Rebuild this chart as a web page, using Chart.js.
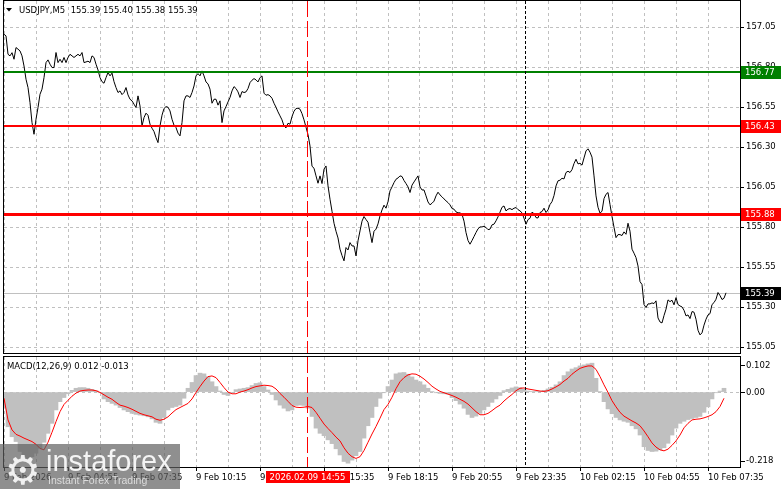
<!DOCTYPE html>
<html><head><meta charset="utf-8">
<script src="https://cdn.jsdelivr.net/npm/chart.js"></script>
<style>
html,body{margin:0;padding:0;background:#fff;}
#wrap{position:relative;width:781px;height:489px;overflow:hidden;background:#fff;}
#cMain{position:absolute;left:0;top:0;width:781px;height:356px;}
#cMacd{position:absolute;left:0;top:354px;width:781px;height:135px;}
#logo{position:absolute;left:0;top:444px;width:180px;height:45px;background:rgba(96,96,96,0.70);overflow:hidden;}
#logo span{position:absolute;white-space:nowrap;line-height:1;}
#logo .gear{left:5px;top:3px;font:40px 'DejaVu Sans';color:#f0f0f0;}
#logo .name{left:46px;top:1px;font:29px 'Liberation Sans';color:#f4f4f4;}
#logo .tag{left:48px;top:30px;font:10.5px 'Liberation Sans';color:#dcdcdc;}
</style></head>
<body><div id="wrap">
<canvas id="cMain" width="781" height="356"></canvas>
<canvas id="cMacd" width="781" height="135"></canvas>
<div id="logo"><span class="gear">&#9881;</span><span class="name">instaforex</span><span class="tag">Instant Forex Trading</span></div>
</div>
<script>
// ---------------- DATA ----------------
const symbol = 'USDJPY,M5';
const ohlc = [155.39, 155.40, 155.38, 155.39];
// M5 closes, one per bar (bar 0 = 9 Feb 02:15)
const prices = [
157.006,156.996,156.881,156.871,156.891,156.850,156.923,156.913,156.902,156.871,
156.808,156.725,156.673,156.579,156.454,156.381,156.475,156.548,156.631,156.663,
156.735,156.829,156.846,156.819,156.798,156.798,156.892,156.829,156.850,156.829,
156.861,156.829,156.861,156.881,156.871,156.861,156.871,156.881,156.871,156.892,
156.829,156.833,156.838,156.829,156.871,156.861,156.819,156.783,156.735,156.710,
156.700,156.735,156.767,156.746,156.763,156.710,156.673,156.642,156.652,156.629,
156.642,156.673,156.627,156.600,156.590,156.569,156.548,156.621,156.558,156.433,
156.485,156.513,156.500,156.444,156.419,156.398,156.360,156.329,156.433,156.500,
156.542,156.554,156.550,156.527,156.475,156.438,156.423,156.388,156.371,156.454,
156.590,156.621,156.621,156.611,156.642,156.683,156.746,156.760,156.746,156.777,
156.746,156.708,156.696,156.663,156.575,156.600,156.600,156.563,156.590,156.454,
156.527,156.554,156.583,156.611,156.652,156.679,156.667,156.646,156.611,156.648,
156.642,156.646,156.667,156.704,156.719,156.729,156.721,156.708,156.735,156.746,
156.638,156.625,156.629,156.621,156.606,156.575,156.550,156.521,156.496,156.471,
156.433,156.421,156.450,156.444,156.492,156.525,156.542,156.544,156.538,156.510,
156.471,156.425,156.379,156.308,156.181,156.169,156.121,156.075,156.121,156.073,
156.163,156.183,156.059,155.975,155.900,155.825,155.775,155.733,155.663,155.623,
155.590,155.673,155.658,155.704,155.683,155.683,155.621,155.715,155.777,155.838,
155.867,155.848,155.831,155.767,155.704,155.775,155.788,155.821,155.871,155.908,
155.938,155.919,155.960,156.027,156.052,156.079,156.100,156.108,156.121,156.117,
156.092,156.073,156.052,156.017,156.063,156.083,156.102,156.121,156.052,156.033,
156.033,155.996,155.958,155.940,155.950,155.963,155.996,156.019,156.002,155.990,
155.977,155.965,155.954,155.940,155.917,155.913,155.896,155.890,155.890,155.881,
155.838,155.767,155.717,155.694,155.717,155.742,155.767,155.790,155.802,155.802,
155.806,155.798,155.785,155.788,155.815,155.819,155.840,155.865,155.894,155.925,
155.933,155.902,155.913,155.917,155.910,155.919,155.923,155.910,155.902,155.890,
155.856,155.819,155.848,155.856,155.894,155.885,155.860,155.858,155.892,155.898,
155.919,155.892,155.908,155.942,155.960,155.998,156.058,156.090,156.094,156.106,
156.102,156.142,156.150,156.142,156.160,156.198,156.225,156.196,156.200,156.188,
156.233,156.277,156.290,156.269,156.238,156.121,155.996,155.925,155.888,155.900,
155.979,156.006,156.017,155.942,155.867,155.800,155.735,155.754,155.754,155.748,
155.771,155.756,155.825,155.775,155.663,155.638,155.610,155.558,155.460,155.442,
155.317,155.298,155.321,155.321,155.327,155.323,155.340,155.233,155.208,155.202,
155.248,155.288,155.346,155.335,155.344,155.315,155.360,155.317,155.308,155.302,
155.281,155.246,155.252,155.229,155.273,155.269,155.225,155.156,155.127,155.140,
155.188,155.225,155.252,155.260,155.317,155.329,155.350,155.392,155.373,155.348,
155.356,155.390
];
// MACD(12,26,9) read every 2nd bar
const macdMain = [
-0.047,-0.101,-0.130,-0.144,-0.173,-0.188,-0.193,-0.188,-0.178,-0.164,
-0.146,-0.120,-0.091,-0.052,-0.028,-0.016,-0.005,0.005,0.011,0.013,
0.013,0.011,0.008,0.004,-0.002,-0.020,-0.028,-0.033,-0.038,-0.045,
-0.052,-0.057,-0.062,-0.065,-0.067,-0.069,-0.072,-0.078,-0.088,-0.091,
-0.074,-0.052,-0.045,-0.042,-0.038,-0.018,0.011,0.028,0.048,0.055,
0.053,0.045,0.030,0.016,0.003,-0.007,-0.010,-0.001,0.007,0.009,
0.011,0.013,0.019,0.025,0.027,0.016,0.006,-0.007,-0.023,-0.038,
-0.047,-0.055,-0.052,-0.039,-0.038,-0.039,-0.047,-0.071,-0.105,-0.120,
-0.127,-0.139,-0.150,-0.165,-0.183,-0.202,-0.207,-0.198,-0.185,-0.173,
-0.134,-0.098,-0.074,-0.042,-0.018,-0.002,0.016,0.035,0.053,0.056,
0.057,0.052,0.044,0.035,0.030,0.021,0.011,0.001,-0.002,-0.004,
-0.005,-0.006,-0.016,-0.025,-0.035,-0.047,-0.065,-0.074,-0.070,-0.062,
-0.052,-0.042,-0.030,-0.020,-0.010,0.004,0.008,0.012,0.015,0.013,
0.008,0.003,0.001,0.001,0.002,0.005,0.009,0.014,0.021,0.030,
0.048,0.059,0.067,0.071,0.076,0.079,0.082,0.084,0.040,0.001,
-0.028,-0.049,-0.063,-0.074,-0.081,-0.085,-0.088,-0.098,-0.107,-0.125,
-0.159,-0.170,-0.173,-0.172,-0.168,-0.162,-0.149,-0.125,-0.105,-0.091,
-0.085,-0.080,-0.077,-0.074,-0.071,-0.059,-0.043,-0.020,-0.002,0.003,0.011
];
const macdSignal = [
-0.018,-0.081,-0.110,-0.123,-0.128,-0.134,-0.139,-0.144,-0.152,-0.164,
-0.168,-0.146,-0.117,-0.086,-0.057,-0.036,-0.024,-0.012,-0.003,0.003,
0.005,0.006,0.006,0.004,-0.001,-0.008,-0.015,-0.021,-0.030,-0.038,
-0.041,-0.045,-0.050,-0.056,-0.062,-0.066,-0.069,-0.072,-0.079,-0.082,
-0.079,-0.072,-0.061,-0.051,-0.045,-0.039,-0.033,-0.020,-0.001,0.016,
0.032,0.045,0.047,0.042,0.028,0.013,0.000,-0.005,-0.005,0.000,
0.003,0.007,0.012,0.016,0.018,0.020,0.019,0.017,0.009,-0.004,
-0.015,-0.027,-0.039,-0.044,-0.045,-0.044,-0.042,-0.045,-0.059,-0.076,
-0.093,-0.106,-0.118,-0.131,-0.142,-0.162,-0.178,-0.188,-0.193,-0.188,
-0.170,-0.146,-0.122,-0.100,-0.076,-0.051,-0.036,-0.015,0.010,0.030,
0.042,0.050,0.053,0.052,0.046,0.038,0.028,0.017,0.009,0.002,
-0.002,-0.006,-0.010,-0.015,-0.021,-0.027,-0.035,-0.046,-0.057,-0.066,
-0.066,-0.062,-0.054,-0.045,-0.038,-0.026,-0.016,-0.007,0.004,0.011,
0.012,0.009,0.007,0.005,0.003,0.002,0.004,0.009,0.015,0.022,
0.032,0.040,0.052,0.061,0.069,0.073,0.076,0.076,0.066,0.045,
0.021,-0.001,-0.025,-0.043,-0.059,-0.070,-0.077,-0.084,-0.090,-0.098,
-0.113,-0.130,-0.148,-0.160,-0.168,-0.171,-0.166,-0.155,-0.142,-0.125,
-0.104,-0.091,-0.081,-0.079,-0.078,-0.075,-0.071,-0.066,-0.057,-0.042,-0.018
];
const macdHeader = [0.012, -0.013];
const timeLabels = ['9 Feb 2026','9 Feb 04:55','9 Feb 07:35','9 Feb 10:15','9 Feb 12:55','9 Feb 15:35',
  '9 Feb 18:15','9 Feb 20:55','9 Feb 23:35','10 Feb 02:15','10 Feb 04:55','10 Feb 07:35'];
const priceTicks = [157.05,156.80,156.55,156.30,156.05,155.80,155.55,155.30,155.05];
const levels = [156.77, 156.43, 155.88];
const macdScaleLabels = [0.102, 0.00, -0.218];
const sessionBar = 152, sessionLabel = '2026.02.09 14:55';
const dayBreakBar = 261;

// ---------------- STYLE / LAYOUT ----------------
const X_MAX = 368, GRID_STEP = 16, LABEL_STEP = 32, MACD_STEP = 2;
const FONT = {family:'DejaVu Sans', size:8.5};
const FONT_CSS = '8.5px "DejaVu Sans"';
const GRID = '#c0c0c0', DASH = [3,3];
const LEVEL_STYLE = [{color:'#008000',w:2},{color:'#ff0000',w:2},{color:'#ff0000',w:3}];
const MARKERS = [{bar:sessionBar,color:'#ff0000',dash:[16,4]},{bar:dayBreakBar,color:'#000000',dash:[3,2]}];
const gridBars = []; for (let b = 0; b <= X_MAX; b += GRID_STEP) gridBars.push(b);

function fixScale(w,h){ return s => { if(w!=null) s.width=w; if(h!=null) s.height=h;
  s.paddingTop=0; s.paddingBottom=0; s.paddingLeft=0; s.paddingRight=0; }; }
function drawMarkers(ctx, x, top, bottom){
  MARKERS.forEach(m => {
    const px = Math.round(x.getPixelForValue(m.bar)) - 0.5;
    ctx.save(); ctx.strokeStyle = m.color; ctx.lineWidth = 1; ctx.setLineDash(m.dash);
    ctx.beginPath(); ctx.moveTo(px, top); ctx.lineTo(px, bottom); ctx.stroke(); ctx.restore();
  });
}
function drawFrame(ctx, a){
  ctx.save(); ctx.strokeStyle='#000'; ctx.lineWidth=1; ctx.setLineDash([]);
  ctx.strokeRect(a.left-0.5, a.top-0.5, a.right-a.left+1, a.bottom-a.top+1); ctx.restore();
}
function axisBox(ctx, a, yc, text, bg){
  const y0 = Math.round(yc) - 6;
  ctx.fillStyle = bg; ctx.fillRect(a.right+1, y0, 40, 13);
  ctx.fillStyle = '#fff'; ctx.font = FONT_CSS; ctx.textBaseline='middle'; ctx.textAlign='left';
  ctx.fillText(text, a.right+5, y0+6.5);
}

const mainDeco = {
  id:'mainDeco',
  beforeDatasetsDraw(chart){
    const {ctx, chartArea:a, scales:{y}} = chart;
    const yb = Math.round(y.getPixelForValue(ohlc[3])) + 0.5;
    ctx.save(); ctx.strokeStyle='#c0c0c0'; ctx.lineWidth=1;
    ctx.beginPath(); ctx.moveTo(a.left,yb); ctx.lineTo(a.right,yb); ctx.stroke(); ctx.restore();
  },
  afterDatasetsDraw(chart){
    const {ctx, chartArea:a, scales:{x,y}} = chart;
    ctx.save();
    levels.forEach((lv,i) => { const st = LEVEL_STYLE[i]; const py = y.getPixelForValue(lv);
      ctx.fillStyle = st.color; ctx.fillRect(a.left, Math.round(py - st.w/2), a.right-a.left, st.w); });
    ctx.restore();
    drawMarkers(ctx, x, a.top, a.bottom);
    drawFrame(ctx, a);
  },
  afterDraw(chart){
    const {ctx, chartArea:a, scales:{y}} = chart;
    ctx.save();
    levels.forEach((lv,i) => axisBox(ctx, a, y.getPixelForValue(lv), lv.toFixed(2), LEVEL_STYLE[i].color));
    axisBox(ctx, a, y.getPixelForValue(ohlc[3]), ohlc[3].toFixed(2), '#000');
    ctx.fillStyle='#000'; ctx.beginPath(); ctx.moveTo(6,8); ctx.lineTo(12,8); ctx.lineTo(9,11.5); ctx.closePath(); ctx.fill();
    ctx.font = FONT_CSS; ctx.textBaseline='middle'; ctx.textAlign='left';
    ctx.fillText(symbol + '  ' + ohlc.map(v => v.toFixed(2)).join(' '), 19, 10.5);
    ctx.restore();
  }
};

const macdDeco = {
  id:'macdDeco',
  afterDatasetsDraw(chart){
    const {ctx, chartArea:a, scales:{x}} = chart;
    drawMarkers(ctx, x, a.top, a.bottom);
    drawFrame(ctx, a);
  },
  afterDraw(chart){
    const {ctx, chartArea:a, scales:{x,y}} = chart;
    ctx.save();
    ctx.font = FONT_CSS; ctx.textBaseline='middle'; ctx.textAlign='left'; ctx.fillStyle='#000';
    macdScaleLabels.forEach(v => {
      let py = y.getPixelForValue(v);
      py = Math.min(Math.max(py, a.top+8), a.bottom-6.5);
      ctx.fillRect(a.right+1, Math.round(py), 4, 1);
      ctx.fillText(v === 0 ? '0.00' : v.toFixed(3), a.right+6, py+0.5);
    });
    ctx.fillText('MACD(12,26,9) ' + macdHeader[0].toFixed(3) + ' ' + macdHeader[1].toFixed(3), 7, a.top+9.5);
    const cx = Math.round(x.getPixelForValue(sessionBar)) - 0.5;
    const w = ctx.measureText(sessionLabel).width + 8;
    ctx.fillStyle = '#ff0000'; ctx.fillRect(Math.round(cx - w/2), a.bottom+4, Math.round(w), 12);
    ctx.fillStyle = '#fff'; ctx.textAlign='center'; ctx.fillText(sessionLabel, cx, a.bottom+10.5);
    ctx.restore();
  }
};

Chart.defaults.font.family = FONT.family;
Chart.defaults.font.size = FONT.size;
Chart.defaults.color = '#000';

new Chart(document.getElementById('cMain'), {
  type:'line',
  data:{ datasets:[{ data: prices.map((p,i) => ({x:i, y:p})), borderColor:'#000', borderWidth:1,
    pointRadius:0, tension:0, fill:false }] },
  options:{
    responsive:false, animation:false, devicePixelRatio:1, events:[],
    layout:{ padding:{ left:4, top:1, right:0, bottom:3 } },
    plugins:{ legend:{display:false}, tooltip:{enabled:false} },
    scales:{
      x:{ type:'linear', min:0, max:X_MAX, offset:false,
          afterBuildTicks: s => { s.ticks = gridBars.map(v => ({value:v})); },
          ticks:{ display:false }, grid:{ color:GRID, drawTicks:false },
          border:{ display:false, dash:DASH }, afterFit: fixScale(null,0) },
      y:{ position:'right', min:155.014, max:157.214,
          afterBuildTicks: s => { s.ticks = priceTicks.map(v => ({value:v})); },
          ticks:{ autoSkip:false, color:'#000', font:FONT, padding:2, callback: v => Number(v).toFixed(2) },
          grid:{ color:GRID, tickColor:'#000', tickLength:4, tickBorderDash:[] },
          border:{ display:false, dash:DASH }, afterFit: fixScale(41,null) }
    }
  },
  plugins:[mainDeco]
});

new Chart(document.getElementById('cMacd'), {
  type:'bar',
  data:{ datasets:[
    { type:'line', data: macdSignal.map((v,k) => ({x:k*MACD_STEP, y:v})), borderColor:'#ff0000', borderWidth:1,
      pointRadius:0, tension:0, fill:false, order:0 },
    { type:'bar', data: macdMain.map((v,k) => ({x:k*MACD_STEP, y:v})), backgroundColor:'#c0c0c0', borderWidth:0,
      barPercentage:1, categoryPercentage:1, order:1 }
  ]},
  options:{
    responsive:false, animation:false, devicePixelRatio:1, events:[],
    layout:{ padding:{ left:4, top:3, right:0, bottom:0 } },
    plugins:{ legend:{display:false}, tooltip:{enabled:false} },
    scales:{
      x:{ type:'linear', min:0, max:X_MAX, offset:false,
          afterBuildTicks: s => { s.ticks = gridBars.map(v => ({value:v})); },
          ticks:{ autoSkip:false, maxRotation:0, minRotation:0, align:'start', color:'#000', font:FONT, padding:2,
                  callback: v => (v % LABEL_STEP === 0 ? (timeLabels[v / LABEL_STEP] || '') : '') },
          grid:{ color:GRID, offset:false, tickLength:4, tickBorderDash:[],
                 tickColor: c => (c.tick && c.tick.value % LABEL_STEP === 0 && c.tick.value < X_MAX) ? '#000' : 'rgba(0,0,0,0)' },
          border:{ display:false, dash:DASH }, afterFit: fixScale(null,22) },
      y:{ position:'right', min:-0.218, max:0.102,
          afterBuildTicks: s => { s.ticks = [{value:0}]; },
          ticks:{ display:false }, grid:{ color:GRID, drawTicks:false },
          border:{ display:false, dash:DASH }, afterFit: fixScale(41,null) }
    }
  },
  plugins:[macdDeco]
});
</script></body></html>
